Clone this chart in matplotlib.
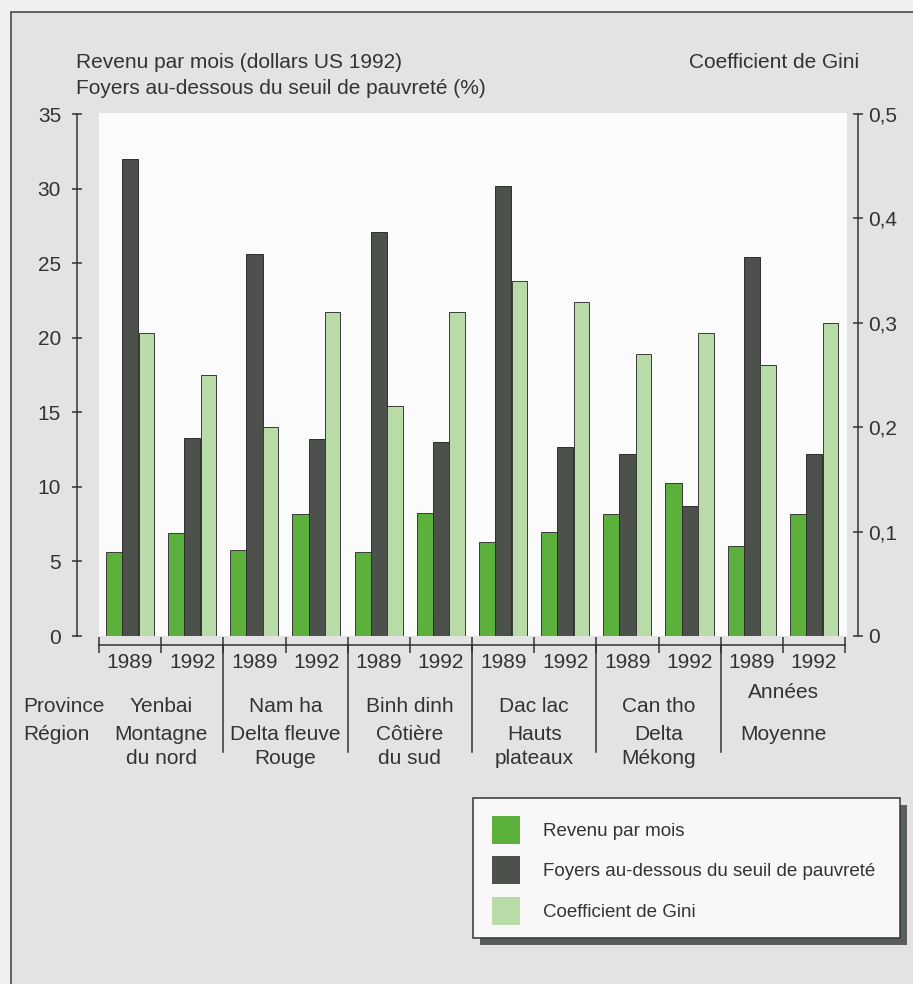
import numpy as np
import matplotlib
matplotlib.use('Agg')
import matplotlib.pyplot as plt
import matplotlib.transforms as mtransforms
from matplotlib.patches import Rectangle, Patch

plt.rcParams['font.family'] = ['Liberation Sans', 'DejaVu Sans']

# Donnees
annees = ['1989', '1992'] * 6
provinces = ['Yenbai', 'Nam ha', 'Binh dinh', 'Dac lac', 'Can tho', '']
regions = ['Montagne\ndu nord', 'Delta fleuve\nRouge', 'Côtière\ndu sud',
           'Hauts\nplateaux', 'Delta\nMékong', 'Moyenne']
revenu = [5.6, 6.9, 5.75, 8.15, 5.6, 8.25, 6.3, 6.95, 8.2, 10.25, 6.05, 8.15]
foyers = [32.0, 13.3, 25.6, 13.2, 27.1, 13.0, 30.2, 12.7, 12.2, 8.7, 25.4, 12.2]
gini = [0.29, 0.25, 0.20, 0.31, 0.22, 0.31, 0.34, 0.32, 0.27, 0.29, 0.26, 0.30]

W, H = 913, 984
txt = '#333333'
c_rev = '#5cb03c'
c_foy = '#4c514c'
c_gini = '#b8dba7'
fs = 15

def fx(px):
    return px / W

def fy(py):
    return 1 - py / H

fig = plt.figure(figsize=(W / 100, H / 100), dpi=100, facecolor='#f0f0f0')
# cadre gris
fig.patches.append(Rectangle((fx(11), fy(1000)), fx(920) - fx(11), fy(12) - fy(1000),
                             transform=fig.transFigure, facecolor='#e3e3e3',
                             edgecolor='#555555', lw=1.3, zorder=-5))

ax = fig.add_axes([fx(99), fy(636), fx(847) - fx(99), fy(113) - fy(636)])
ax.set_facecolor('#fbfbfb')
ytop = 35 * (636 - 113) / (636 - 114)
ax.set_ylim(0, ytop)
ax.set_xlim(-0.5, 11.53)

x = np.arange(len(annees))
bw = 0.26
ax.bar(x - bw, revenu, bw, color=c_rev, edgecolor='#3a3a3a', lw=0.7, zorder=3)
ax.bar(x, foyers, bw, color=c_foy, edgecolor='#2e2e2e', lw=0.7, zorder=3)

ax2 = ax.twinx()
ax2.set_ylim(0, 0.5 * ytop / 35)
ax2.bar(x + bw, gini, bw * 0.95, color=c_gini, edgecolor='#3a3a3a', lw=0.7, zorder=3)
ax2.set_xlim(ax.get_xlim())

ax.spines['top'].set_visible(False)
ax2.spines['top'].set_visible(False)
ax.spines['right'].set_visible(False)
ax2.spines['left'].set_visible(False)
ax2.spines['bottom'].set_visible(False)

ax.spines['left'].set_position(('outward', 15.8))
ax.spines['left'].set_bounds(0, 35)
ax.spines['left'].set_color('#333333')
ax.spines['left'].set_linewidth(1.1)
ax.set_yticks(np.arange(0, 36, 5))
ax.tick_params(axis='y', direction='inout', length=7, width=1.1, color='#333333',
               labelsize=fs, labelcolor=txt, pad=8)

ax2.spines['right'].set_position(('outward', 7.9))
ax2.spines['right'].set_bounds(0, 0.5)
ax2.spines['right'].set_color('#333333')
ax2.spines['right'].set_linewidth(1.1)
ax2.set_yticks(np.arange(0, 0.51, 0.1))
ax2.set_yticklabels(['0', '0,1', '0,2', '0,3', '0,4', '0,5'])
ax2.tick_params(axis='y', direction='inout', length=7, width=1.1, color='#333333',
                labelsize=fs, labelcolor=txt, pad=4)

ax.spines['bottom'].set_position(('outward', 6.5))
ax.spines['bottom'].set_bounds(-0.5, 11.5)
ax.spines['bottom'].set_color('#333333')
ax.spines['bottom'].set_linewidth(1.1)
ax.set_xticks(np.arange(-0.5, 12, 1.0))
ax.set_xticklabels([])
ax.tick_params(axis='x', direction='inout', length=12, width=1.1, color='#333333')

# libelles sous l'axe
trans = mtransforms.blended_transform_factory(ax.transData, fig.transFigure)
for i, an in enumerate(annees):
    ax.text(x[i], fy(662), an, transform=trans, ha='center', va='center',
            fontsize=fs, color=txt)
for k in range(5):
    ax.plot([2 * k + 1.5, 2 * k + 1.5], [fy(645), fy(752)], transform=trans,
            color='#333333', lw=1.1, clip_on=False)
for k in range(6):
    cx = 2 * k + 0.5
    if provinces[k]:
        ax.text(cx, fy(706), provinces[k], transform=trans, ha='center', va='center',
                fontsize=fs, color=txt)
    for j, ligne in enumerate(regions[k].split('\n')):
        ax.text(cx, fy(735 + 24 * j), ligne, transform=trans, ha='center', va='center',
                fontsize=fs, color=txt)
ax.text(10.5, fy(693), 'Années', transform=trans, ha='center', va='center',
        fontsize=fs, color=txt)
fig.text(fx(23), fy(706), 'Province', ha='left', va='center', fontsize=fs, color=txt)
fig.text(fx(23), fy(735), 'Région', ha='left', va='center', fontsize=fs, color=txt)

# titres des axes
fig.text(fx(76), fy(63), 'Revenu par mois (dollars US 1992)', ha='left', va='center',
         fontsize=fs, color=txt)
fig.text(fx(76), fy(88), 'Foyers au-dessous du seuil de pauvreté (%)', ha='left',
         va='center', fontsize=fs, color=txt)
fig.text(fx(859), fy(63), 'Coefficient de Gini', ha='right', va='center',
         fontsize=fs, color=txt)

# legende
fig.patches.append(Rectangle((fx(480), fy(945)), fx(907) - fx(480), fy(805) - fy(945),
                             transform=fig.transFigure, facecolor='#5a5e5a',
                             edgecolor='none', zorder=1))
fig.patches.append(Rectangle((fx(473), fy(938)), fx(900) - fx(473), fy(798) - fy(938),
                             transform=fig.transFigure, facecolor='#f8f8f8',
                             edgecolor='#333333', lw=1.1, zorder=2))
handles = [Patch(facecolor=c_rev), Patch(facecolor=c_foy), Patch(facecolor=c_gini)]
labels = ['Revenu par mois', 'Foyers au-dessous du seuil de pauvreté', 'Coefficient de Gini']
leg = fig.legend(handles, labels, loc='upper left', bbox_to_anchor=(fx(492), fy(816)),
                 frameon=False, fontsize=13.5, handlelength=1.5, handleheight=1.92,
                 handletextpad=1.2, labelspacing=0.66, borderaxespad=0, borderpad=0)
for t in leg.get_texts():
    t.set_color(txt)

fig.savefig('out.png', dpi=100, facecolor=fig.get_facecolor())
